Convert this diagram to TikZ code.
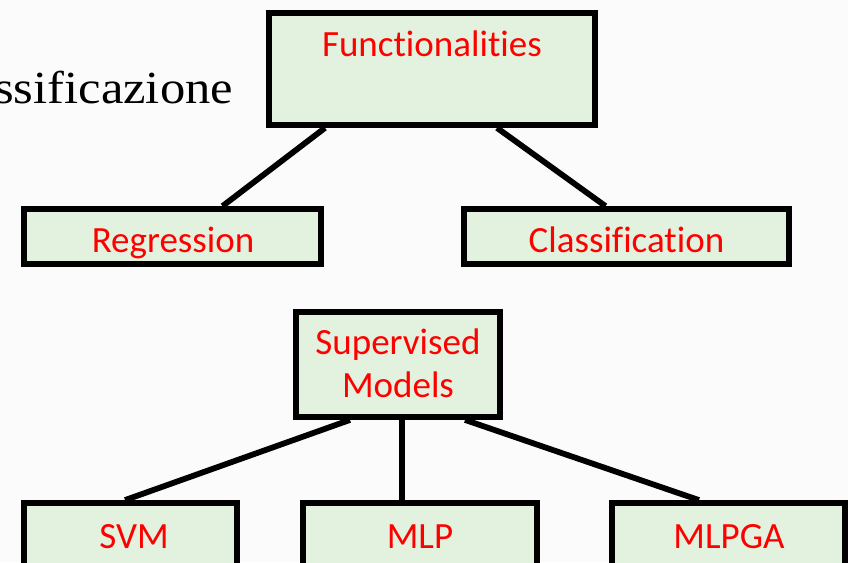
\documentclass[tikz,border=0pt]{standalone}
\usepackage{fontspec}
\newfontfamily\boxfont{Carlito}[Ligatures=NoCommon]
\newfontfamily\headfont{Liberation Serif}[FakeStretch=1.1]
\usetikzlibrary{calc}
\definecolor{paper}{RGB}{251,251,251}
\definecolor{boxfill}{RGB}{227,242,222}
\definecolor{labelred}{RGB}{255,0,0}
\begin{document}
\begin{tikzpicture}[x=1pt,y=-1pt,
  box/.style={draw=black,fill=boxfill,line width=5.8pt,inner sep=0pt,
    line join=miter,minimum width=#1},
  lbl/.style={text=labelred,inner sep=0pt,anchor=base,
    font=\boxfont\fontsize{37}{43}\selectfont,align=center},
  link/.style={line width=5.8pt,draw=black}]
  % page and background
  \useasboundingbox (0,0) rectangle (848,562);
  \fill[paper] (0,0) rectangle (848,562);

  % heading text, running off the left edge
  \node[anchor=base west,inner sep=0pt,font=\headfont\fontsize{46}{50}\selectfont] (head) at (-6,103) {ssificazione};

  % first tree
  \node[box=326pt,minimum height=112pt] (fn) at (432,69) {};
  \node[lbl] (fnt) at (432,56) {Functionalities};
  \node[box=297pt,minimum height=55pt] (reg) at (172.5,236.5) {};
  \node[lbl] (regt) at (173,252) {Regression};
  \node[box=325pt,minimum height=55pt] (cls) at (626.5,236.5) {};
  \node[lbl] (clst) at (626.5,252) {Classification};

  \draw[link] ([xshift=-107pt]fn.south) -- ([xshift=50pt]reg.north);
  \draw[link] ([xshift=65pt]fn.south) -- ([xshift=-21pt]cls.north);

  % second tree
  \node[box=204pt,minimum height=105pt] (sm) at (398,364.5) {};
  \node[lbl] (smt) at (398,397) {Supervised\\Models};
  \node[box=213pt,minimum height=80pt] (svm) at (130.5,543) {};
  \node[lbl] (svmt) at (134,548) {SVM};
  \node[box=234pt,minimum height=80pt] (mlp) at (420,543) {};
  \node[lbl] (mlpt) at (420,548) {MLP};
  \node[box=233pt,minimum height=80pt] (mlpga) at (728.5,543) {};
  \node[lbl] (mlpgat) at (729,548) {MLPGA};

  \draw[link] ([xshift=-48pt]sm.south) -- ([xshift=-5.5pt]svm.north);
  \draw[link] ([xshift=4pt]sm.south) -- ([xshift=-18pt]mlp.north);
  \draw[link] ([xshift=67pt]sm.south) -- ([xshift=-29.5pt]mlpga.north);
\end{tikzpicture}
\end{document}
